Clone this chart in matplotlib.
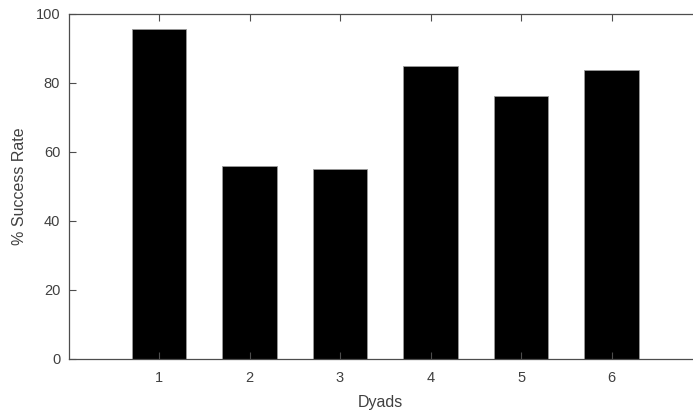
import numpy as np
import matplotlib.pyplot as plt

############################################################
# Data

dyads = [1, 2, 3, 4, 5, 6]
success_rate = [95.4, 55.9, 55.1, 84.8, 76.0, 83.7]
y_ticks = [0, 20, 40, 60, 80, 100]

############################################################
# Plotting

plt.rcParams['font.family'] = ['Liberation Sans', 'DejaVu Sans']

axis_col = '#4d4d4d'
text_col = '#404040'

fig = plt.figure(figsize=(6.93, 4.13), dpi=100)
ax = fig.add_axes([68.5 / 693, 1 - 359 / 413, (693 - 68.5) / 693, (359 - 13.5) / 413])

ax.bar(dyads, success_rate, width=0.6, color='k', edgecolor='#9a9a9a', linewidth=0.6)

ax.set_xlim(0, 6.9)
ax.set_ylim(0, 100)
ax.set_xticks(dyads)
ax.set_yticks(y_ticks)

for side in ['left', 'bottom', 'top']:
    ax.spines[side].set_color(axis_col)
    ax.spines[side].set_linewidth(0.9)
ax.spines['right'].set_visible(False)

ax.tick_params(direction='in', length=5, width=0.8, color=axis_col,
               labelcolor=text_col, labelsize=10.5, top=True)
ax.tick_params(axis='x', pad=9)
ax.tick_params(axis='y', pad=6)

ax.set_xlabel('Dyads', size=11.5, color=text_col, labelpad=7)
ax.set_ylabel('% Success Rate', size=11.5, color=text_col, labelpad=6)

plt.savefig('out.png', dpi=100)
